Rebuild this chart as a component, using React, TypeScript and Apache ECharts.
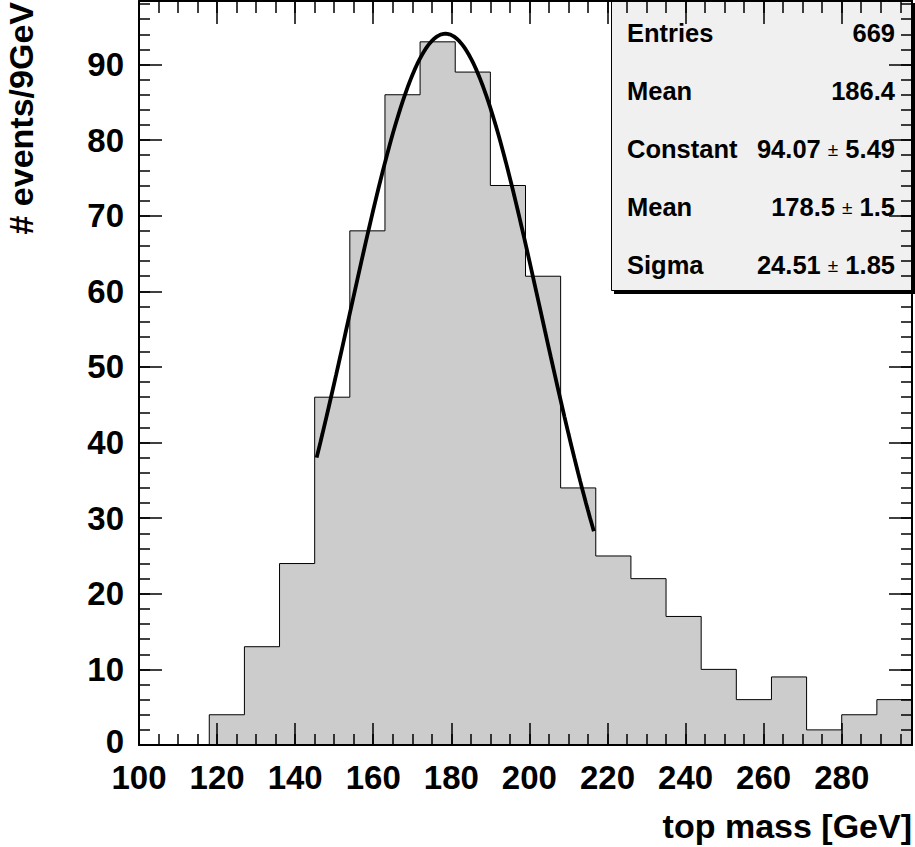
import React, { useEffect, useRef } from "react";
import * as echarts from "echarts";

// ---- data ----
const X_MIN = 100;
const X_MAX = 298;
const BIN_WIDTH = 9;
const Y_MAX = 98.4;
const binCounts = [0, 0, 4, 13, 24, 46, 68, 86, 93, 89, 74, 62, 34, 25, 22, 17, 10, 6, 9, 2, 4, 6];

// Gaussian fit (parameters from the stats box)
const FIT_CONSTANT = 94.07;
const FIT_MEAN = 178.5;
const FIT_SIGMA = 24.51;
const FIT_RANGE = [145.5, 216.5];

const statLabels = ["Entries", "Mean", "Constant", "Mean", "Sigma"];
const statValues = ["669", "186.4", "94.07", "178.5", "24.51"];
const statErrors = [null, null, "5.49", "1.5", "1.85"];

const X_TITLE = "top mass [GeV]";
const Y_TITLE = "# events/9GeV";

const FONT = '"Liberation Sans", Arial, Helvetica, sans-serif';

export default function App() {
  const ref = useRef<HTMLDivElement>(null);

  useEffect(() => {
    if (!ref.current) return;
    const chart = echarts.init(ref.current, undefined, { renderer: "svg" });

    const stepData: number[][] = [];
    binCounts.forEach((v, i) => {
      const lo = X_MIN + i * BIN_WIDTH;
      const hi = lo + BIN_WIDTH;
      stepData.push([lo, v]);
      stepData.push([hi, v]);
    });

    const fitData: number[][] = [];
    for (let x = FIT_RANGE[0]; x <= FIT_RANGE[1] + 1e-9; x += 0.5) {
      const z = (x - FIT_MEAN) / FIT_SIGMA;
      fitData.push([x, FIT_CONSTANT * Math.exp(-0.5 * z * z)]);
    }

    const common = {
      type: "value" as const,
      splitLine: { show: false },
      z: 5,
    };
    const baseLabel = {
      color: "#000",
      fontSize: 33,
      fontWeight: "bold" as const,
      fontFamily: FONT,
      showMaxLabel: false,
    };
    const xLabel = { ...baseLabel, margin: 16 };
    const yLabel = {
      ...baseLabel,
      margin: 15,
      formatter: (v: number) => (v === 0 ? "{z|0}" : String(v)),
      rich: {
        z: {
          color: "#000",
          fontSize: 33,
          fontWeight: "bold" as const,
          fontFamily: FONT,
          padding: [0, 0, 8, 0],
        },
      },
    };

    const mkX = (position: string, interval: number, len: number, labels: boolean, line: boolean) => ({
      ...common,
      position,
      min: X_MIN,
      max: X_MAX,
      interval,
      axisLine: { show: line, onZero: false, lineStyle: { color: "#000", width: 2 } },
      axisTick: { show: true, inside: true, length: len, lineStyle: { color: "#000", width: 1.5 } },
      axisLabel: labels ? xLabel : { show: false },
    });
    const mkY = (position: string, interval: number, len: number, labels: boolean, line: boolean) => ({
      ...common,
      position,
      min: 0,
      max: Y_MAX,
      interval,
      axisLine: { show: line, onZero: false, lineStyle: { color: "#000", width: 2 } },
      axisTick: { show: true, inside: true, length: len, lineStyle: { color: "#000", width: 1.5 } },
      axisLabel: labels ? yLabel : { show: false },
    });

    const rowY = [33, 91, 149, 207, 265];
    const statTexts: any[] = [];
    statLabels.forEach((lab, i) => {
      statTexts.push({
        type: "text",
        style: {
          text: lab,
          x: 627,
          y: rowY[i],
          fill: "#000",
          font: `bold 25.5px ${FONT}`,
          align: "left",
          verticalAlign: "middle",
        },
      });
      const err = statErrors[i];
      statTexts.push({
        type: "text",
        style: {
          text: err ? `{v|${statValues[i]} }{p|±}{v| ${err}}` : `{v|${statValues[i]}}`,
          x: 895,
          y: rowY[i],
          align: "right",
          verticalAlign: "middle",
          rich: {
            v: { fontSize: 25.5, fontWeight: "bold", fontFamily: FONT, fill: "#000" },
            p: { fontSize: 19, fontWeight: "normal", fontFamily: FONT, fill: "#000" },
          },
        },
      });
    });

    chart.setOption({
      animation: false,
      backgroundColor: "#fff",
      grid: { left: 139, right: 3, top: 1, bottom: 102, containLabel: false },
      xAxis: [
        mkX("bottom", 20, 22, true, true),
        mkX("bottom", 5, 11, false, false),
        mkX("top", 20, 23, false, true),
        mkX("top", 5, 12, false, false),
      ],
      yAxis: [
        mkY("left", 10, 23, true, true),
        mkY("left", 2, 11, false, false),
        mkY("right", 10, 23, false, true),
        mkY("right", 2, 11, false, false),
      ],
      series: [
        {
          type: "line",
          xAxisIndex: 0,
          yAxisIndex: 0,
          data: stepData,
          symbol: "none",
          lineStyle: { color: "#000", width: 1 },
          areaStyle: { color: "#cccccc", opacity: 1 },
          z: 2,
        },
        {
          type: "line",
          xAxisIndex: 0,
          yAxisIndex: 0,
          data: fitData,
          symbol: "none",
          smooth: false,
          lineStyle: { color: "#000", width: 3.8 },
          z: 3,
        },
      ],
      graphic: [
        {
          type: "group",
          z: 100,
          children: [
            { type: "rect", shape: { x: 614, y: 3, width: 301, height: 291 }, style: { fill: "#000" } },
            {
              type: "rect",
              shape: { x: 611.5, y: 0.5, width: 301, height: 290 },
              style: { fill: "#f0f0f0", stroke: "#000", lineWidth: 1 },
            },
            ...statTexts,
          ],
        },
        {
          type: "text",
          z: 100,
          style: {
            text: X_TITLE,
            x: 912,
            y: 826,
            align: "right",
            verticalAlign: "middle",
            font: `bold 34px ${FONT}`,
            fill: "#000",
          },
        },
        {
          type: "text",
          z: 100,
          x: 21,
          y: 2,
          rotation: Math.PI / 2,
          style: {
            text: Y_TITLE,
            x: 0,
            y: 0,
            align: "right",
            verticalAlign: "middle",
            font: `bold 34px ${FONT}`,
            fill: "#000",
          },
        },
      ],
    });

    return () => chart.dispose();
  }, []);

  return (
    <div
      ref={ref}
      style={{ position: "fixed", left: 0, top: 0, width: 915, height: 847, background: "#fff" }}
    />
  );
}
